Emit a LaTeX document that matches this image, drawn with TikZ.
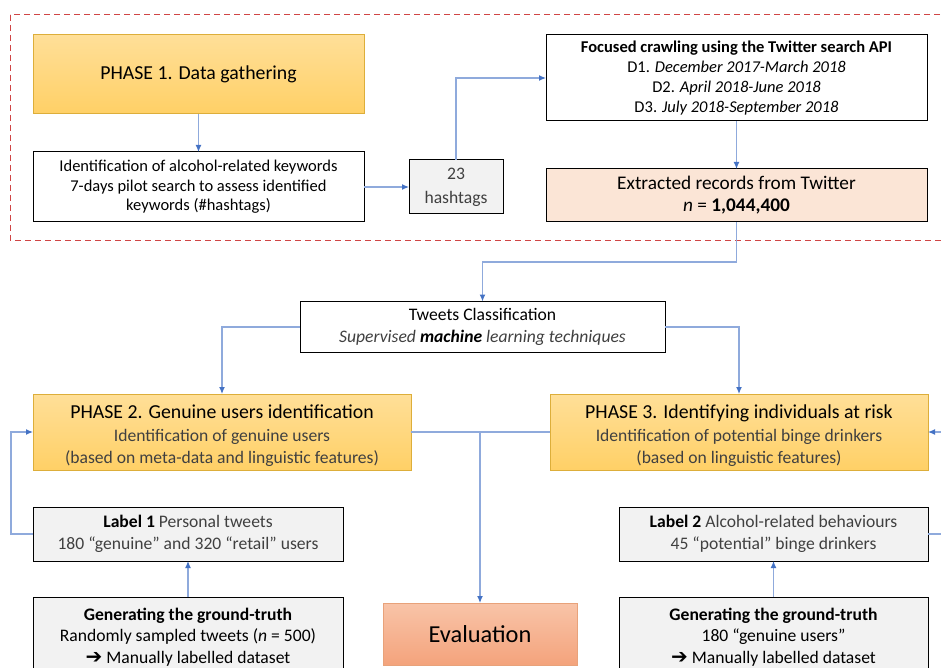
\documentclass[tikz,border=0pt]{standalone}
\usepackage{fontspec}
\setmainfont{Carlito}
\newfontfamily\symfont{DejaVu Sans}
\usepackage{tikz}
\usetikzlibrary{arrows.meta,calc,positioning}

\definecolor{phasetop}{HTML}{FFDF98}
\definecolor{phasebot}{HTML}{FFD066}
\definecolor{phaseline}{HTML}{DDAE3A}
\definecolor{evaltop}{HTML}{F8C4A8}
\definecolor{evalbot}{HTML}{F4A37C}
\definecolor{evalline}{HTML}{E8A27A}
\definecolor{recfill}{HTML}{FBE5D6}
\definecolor{greyfill}{HTML}{F2F2F2}
\definecolor{textgrey}{HTML}{404040}
\definecolor{linkblue}{HTML}{8FAADC}
\definecolor{tipblue}{HTML}{4472C4}
\definecolor{framered}{HTML}{D04545}

\newcommand{\fbody}{\fontsize{16.5}{19.5}\selectfont}
\newcommand{\fmid}{\fontsize{17.6}{22}\selectfont}
\newcommand{\fbig}{\fontsize{19.3}{22}\selectfont}
\newcommand{\ftitle}{\fontsize{19.8}{23}\selectfont}
\newcommand{\fhuge}{\fontsize{24.4}{28}\selectfont}
\newcommand{\goarrow}{{\symfont\bfseries\fontsize{20}{20}\selectfont ➔}}

\begin{document}
\begin{tikzpicture}[x=1pt, y=-1pt, node distance=2cm,
  >={Latex[length=7pt,width=6pt,color=tipblue]}, font=\fbody]
\tikzset{box/.style = {draw, rectangle, inner sep=0pt, outer sep=0pt,
  align=center, line width=1pt},
  phase/.style = {box, draw=phaseline, top color=phasetop,
  bottom color=phasebot, minimum width=378pt, minimum height=76pt,
  font=\fmid},
  greybox/.style = {box, fill=greyfill},
  link/.style = {draw=linkblue, line width=1.2pt}}

  \useasboundingbox (0,0) rectangle (941,668);
  \clip (0,0) rectangle (941,668);

  % phase 1
  \node[phase, minimum width=331pt, minimum height=79pt, font=\ftitle]
    (ph1) at (198.5,74.5) {PHASE 1. Data gathering};
  \node[box, fill=white, minimum width=331pt, minimum height=70pt,
    node distance=112.5pt, below of=ph1]
    (ident) {Identification of alcohol-related keywords\\
    7-days pilot search to assess identified\\ keywords (\#hashtags)};
  \node[greybox, text=textgrey, minimum width=94pt, minimum height=54pt,
    font=\fmid, node distance=257.5pt, right of=ident]
    (hash) {23\\[2pt] hashtags};

  \node[box, fill=white, minimum width=381pt, minimum height=86pt]
    (crawl) at (736.5,78)
    {\textbf{Focused crawling using the Twitter search API}\\[0.5pt]
    D1. \textit{December 2017-March 2018}\\[0.5pt]
    D2. \textit{April 2018-June 2018}\\[0.5pt]
    D3. \textit{July 2018-September 2018}};
  \node[box, fill=recfill, minimum width=381pt, minimum height=53pt,
    font=\fbig, node distance=117.5pt, below of=crawl]
    (extr) {Extracted records from Twitter\\
    \textit{n} = \textbf{1,044,400}};

  \draw[framered, dash pattern=on 6pt off 4pt, line width=1pt]
    (10,15) rectangle (975,240);

  % classification
  \node[box, fill=white, minimum width=365pt, minimum height=51pt,
    font=\fmid] (tweets) at (482.5,327) {Tweets Classification\\
    {\color{textgrey}\itshape Supervised {\color{black}\bfseries machine}
    learning techniques}};

  % phases 2 and 3
  \node[phase] (ph2) at (222,432)
    {\rule{0pt}{21pt}{\ftitle PHASE 2. Genuine users identification}\\[1pt]
    {\color{textgrey}Identification of genuine users}\\
    {\color{textgrey}(based on meta-data and linguistic features)}};
  \node[phase, node distance=517pt, right of=ph2] (ph3)
    {\rule{0pt}{21pt}{\ftitle PHASE 3. Identifying individuals at risk}\\[1pt]
    {\color{textgrey}Identification of potential binge drinkers}\\
    {\color{textgrey}(based on linguistic features)}};

  \node[box, draw=evalline, top color=evaltop, bottom color=evalbot,
    minimum width=194pt, minimum height=62pt, font=\fhuge]
    (eval) at (480,634) {Evaluation};

  % labels
  \node[greybox, minimum width=310pt, minimum height=54pt, font=\fmid]
    (lab1) at (188,534) {\textbf{Label 1} {\color{textgrey}Personal tweets}\\
    {\color{textgrey}180 “genuine” and 320 “retail” users}};
  \node[greybox, minimum width=310pt, minimum height=80pt, font=\fmid,
    node distance=103pt, below of=lab1] (gt1)
    {\textbf{Generating the ground-truth}\\[-0.5pt]
    Randomly sampled tweets (\textit{n} = 500)\\[-0.5pt]
    \goarrow\ Manually labelled dataset};

  \node[greybox, minimum width=309pt, minimum height=54pt, font=\fmid,
    node distance=585.5pt, right of=lab1]
    (lab2) {\textbf{Label 2} {\color{textgrey}Alcohol-related behaviours}\\
    {\color{textgrey}45 “potential” binge drinkers}};
  \node[greybox, minimum width=309pt, minimum height=80pt, font=\fmid,
    node distance=103pt, below of=lab2] (gt2)
    {\textbf{Generating the ground-truth}\\[-0.5pt]
    180 “genuine users”\\[-0.5pt]
    \goarrow\ Manually labelled dataset};

  % connectors
  \draw[link,->] (ph1) -- (ident);
  \draw[link,->] (ident) -- (hash);
  \draw[link,->] (hash) |- (crawl);
  \draw[link,->] (crawl) -- (extr);
  \draw[link,->] (extr.south) -- ++(0,40) -| (tweets.north);
  \draw[link,->] (tweets) -| (ph2);
  \draw[link,->] (tweets) -| (ph3);
  \draw[link] (ph2) -- (ph3);
  \draw[link,->] (ph2.east -| eval.north) -- (eval);
  \draw[link,->] (lab1.west) -- ++(-22,0) |- (ph2.west);
  \draw[link,->] (gt1) -- (lab1);
  \draw[link,->] (gt2) -- (lab2);
  \draw[link,->] (lab2.east) -- ++(30,0) |- (ph3.east);

\end{tikzpicture}
\end{document}
